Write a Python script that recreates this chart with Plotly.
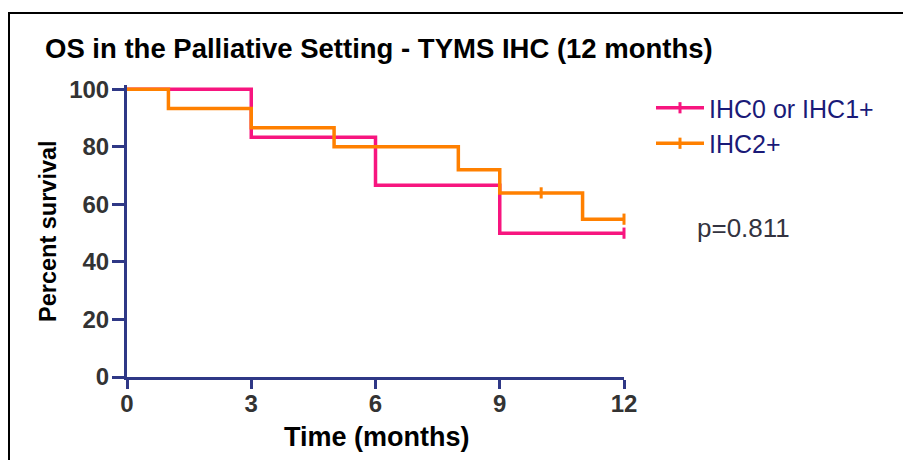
import plotly.graph_objects as go

# ---- data ----
series_names = ["IHC0 or IHC1+", "IHC2+"]
pink_time = [0, 3, 6, 9, 12]
pink_surv = [100, 83.33, 66.67, 50, 50]
pink_censor_time = [12]
pink_censor_surv = [50]
orange_time = [0, 1, 3, 5, 8, 9, 11, 12]
orange_surv = [100, 93.33, 86.67, 80, 72, 64, 54.86, 54.86]
orange_censor_time = [10, None, 12]
orange_censor_surv = [64, None, 54.86]
x_ticks = [0, 3, 6, 9, 12]
y_ticks = [0, 20, 40, 60, 80, 100]
title_text = "OS in the Palliative Setting - TYMS IHC (12 months)"
p_text = "p=0.811"

PINK = "#f7157f"
ORANGE = "#ff8000"
AXIS = "#2f3886"
FONT = "Liberation Sans, Arial, sans-serif"

W, H = 903, 460
L, R, T, B = 127, 279, 85, 83
PW, PH = W - L - R, H - T - B
Y0 = H - B  # pixel of y=0

def px(x):
    return (x - L) / PW

def py(y):
    return (Y0 - y) / PH

fig = go.Figure()

# step curves (no legend)
fig.add_trace(go.Scatter(x=pink_time, y=pink_surv, mode="lines", line=dict(shape="hv", color=PINK, width=3.5),
                         showlegend=False, hoverinfo="skip"))
fig.add_trace(go.Scatter(x=orange_time, y=orange_surv, mode="lines", line=dict(shape="hv", color=ORANGE, width=3.5),
                         showlegend=False, hoverinfo="skip"))
# censor marks, used as legend entries
fig.add_trace(go.Scatter(x=pink_censor_time, y=pink_censor_surv, mode="lines+markers", name=series_names[0],
                         line=dict(color=PINK, width=3.5),
                         marker=dict(symbol="line-ns", size=8, line=dict(color=PINK, width=3)),
                         cliponaxis=False, connectgaps=False))
fig.add_trace(go.Scatter(x=orange_censor_time, y=orange_censor_surv, mode="lines+markers", name=series_names[1],
                         line=dict(color=ORANGE, width=3.5),
                         marker=dict(symbol="line-ns", size=8, line=dict(color=ORANGE, width=3)),
                         cliponaxis=False, connectgaps=False))

fig.update_layout(
    width=W, height=H,
    margin=dict(l=L, r=R, t=T, b=B, pad=0),
    paper_bgcolor="white", plot_bgcolor="white",
    font=dict(family=FONT),
    showlegend=True,
    legend=dict(x=px(651), y=py(85), xanchor="left", yanchor="top",
                font=dict(family=FONT, size=25, color="#1a1a78"),
                bgcolor="rgba(0,0,0,0)", tracegroupgap=0, itemwidth=48),
    xaxis=dict(range=[0, 12], tickvals=x_ticks, ticktext=[str(v) for v in x_ticks],
               showgrid=False, zeroline=False, showline=True, linecolor=AXIS, linewidth=3,
               ticks="outside", ticklen=9, tickwidth=3, tickcolor=AXIS, ticklabelstandoff=-6,
               tickfont=dict(family=FONT, size=24, color="#333333", weight="bold"),
               fixedrange=True),
    yaxis=dict(range=[0, 101.5], tickvals=y_ticks, ticktext=[str(v) for v in y_ticks],
               showgrid=False, zeroline=False, showline=True, linecolor=AXIS, linewidth=3,
               ticks="outside", ticklen=12, tickwidth=3, tickcolor=AXIS, ticklabelstandoff=-2,
               tickfont=dict(family=FONT, size=24, color="#333333", weight="bold"),
               fixedrange=True),
    shapes=[dict(type="rect", xref="paper", yref="paper",
                 x0=px(9), x1=px(W + 20), y0=py(H + 20), y1=py(13),
                 line=dict(color="black", width=2), fillcolor="rgba(0,0,0,0)", layer="below")],
    annotations=[
        dict(text=title_text, xref="paper", yref="paper", x=px(43), y=py(48), xanchor="left", yanchor="middle",
             showarrow=False, font=dict(family=FONT, size=27.5, color="black", weight="bold")),
        dict(text="Percent survival", xref="paper", yref="paper", x=px(48), y=py(231), xanchor="center",
             yanchor="middle", textangle=-90, showarrow=False,
             font=dict(family=FONT, size=23.5, color="black", weight="bold")),
        dict(text="Time (months)", xref="paper", yref="paper", x=px(377), y=py(437), xanchor="center",
             yanchor="middle", showarrow=False, font=dict(family=FONT, size=27, color="black", weight="bold")),
        dict(text=p_text, xref="paper", yref="paper", x=px(695), y=py(228), xanchor="left",
             yanchor="middle", showarrow=False, font=dict(family=FONT, size=26, color="#333340")),
    ],
)

fig.write_html("out.html", config={"displayModeBar": False})
